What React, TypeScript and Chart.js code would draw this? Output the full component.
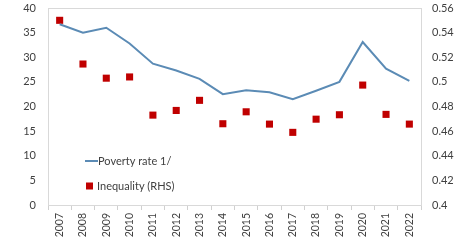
import React, { useEffect, useRef } from "react";
import { Chart, registerables } from "chart.js";

Chart.register(...registerables);

const years = ["2007","2008","2009","2010","2011","2012","2013","2014","2015","2016","2017","2018","2019","2020","2021","2022"];
const povertyRate = [36.7, 35.0, 36.0, 32.8, 28.7, 27.3, 25.6, 22.5, 23.3, 22.9, 21.5, 23.2, 25.0, 33.1, 27.7, 25.2];
const inequality = [0.550, 0.5145, 0.503, 0.504, 0.473, 0.4768, 0.485, 0.466, 0.4757, 0.4657, 0.459, 0.4697, 0.4733, 0.4974, 0.4736, 0.4657];
const povertyLabel = "Poverty rate 1/";
const inequalityLabel = "Inequality (RHS)";

const LINE_COLOR = "#5b8bb5";
const MARK_COLOR = "#c00000";
const FONT = "Lato, 'Open Sans', sans-serif";

const zeroPad = (s: any) => {
  s.paddingTop = 0;
  s.paddingBottom = 0;
  s.paddingLeft = 0;
  s.paddingRight = 0;
};

const frameAndLegend = {
  id: "frameAndLegend",
  afterDraw(chart: any) {
    const { ctx, chartArea: a } = chart;
    ctx.save();
    ctx.strokeStyle = "#d9d9d9";
    ctx.lineWidth = 1;
    ctx.strokeRect(Math.round(a.left) + 0.5, Math.round(a.top) + 0.5, Math.round(a.right - a.left), Math.round(a.bottom - a.top));
    // legend
    const lx = a.left + 37;
    const ly1 = a.top + 153;
    const ly2 = a.top + 178;
    ctx.strokeStyle = LINE_COLOR;
    ctx.lineWidth = 2;
    ctx.beginPath();
    ctx.moveTo(lx, ly1);
    ctx.lineTo(lx + 13, ly1);
    ctx.stroke();
    ctx.fillStyle = MARK_COLOR;
    ctx.fillRect(lx + 1, ly2 - 3.5, 7, 7);
    ctx.fillStyle = "#404040";
    ctx.font = `11px ${FONT}`;
    ctx.textBaseline = "middle";
    ctx.textAlign = "left";
    ctx.fillText(povertyLabel, lx + 13, ly1);
    ctx.fillText(inequalityLabel, lx + 12, ly2);
    ctx.restore();
  },
};

export default function App() {
  const ref = useRef<HTMLCanvasElement | null>(null);
  useEffect(() => {
    if (!ref.current) return;
    const chart = new Chart(ref.current, {
      type: "line",
      data: {
        labels: years,
        datasets: [
          {
            label: povertyLabel,
            data: povertyRate,
            borderColor: LINE_COLOR,
            backgroundColor: LINE_COLOR,
            borderWidth: 2,
            pointRadius: 0,
            tension: 0,
            yAxisID: "y",
          },
          {
            label: inequalityLabel,
            data: inequality,
            showLine: false,
            pointStyle: "rect",
            pointRadius: 5,
            pointBackgroundColor: MARK_COLOR,
            pointBorderColor: MARK_COLOR,
            pointBorderWidth: 0,
            yAxisID: "y1",
          },
        ],
      },
      options: {
        animation: false,
        responsive: false,
        maintainAspectRatio: false,
        layout: { padding: { top: 8, left: 0, right: 0, bottom: 0 } },
        plugins: { legend: { display: false }, tooltip: { enabled: false } },
        scales: {
          x: {
            offset: true,
            grid: { display: true, drawOnChartArea: false, drawTicks: true, tickLength: 5, color: "#d0d0d0", offset: true },
            border: { display: true, color: "#d0d0d0" },
            ticks: {
              minRotation: 90,
              maxRotation: 90,
              autoSkip: false,
              color: "#404040",
              font: { family: FONT, size: 10.5 },
              padding: 3,
            },
            afterFit(s: any) { s.height = 35; zeroPad(s); },
          },
          y: {
            position: "left",
            min: 0,
            max: 40,
            ticks: { stepSize: 5, color: "#404040", font: { family: FONT, size: 11 }, padding: 12 },
            grid: { display: false, drawTicks: false, tickLength: 0 },
            border: { display: true, color: "#d0d0d0" },
            afterFit(s: any) { s.width = 48; zeroPad(s); },
          },
          y1: {
            position: "right",
            min: 0.4,
            max: 0.56,
            ticks: {
              stepSize: 0.02,
              color: "#404040",
              font: { family: FONT, size: 11 },
              padding: 11,
              callback: (v: any) => String(+Number(v).toFixed(2)),
            },
            grid: { display: false, drawTicks: false, tickLength: 0 },
            border: { display: true, color: "#d0d0d0" },
            afterFit(s: any) { s.width = 35; zeroPad(s); },
          },
        },
      },
      plugins: [frameAndLegend],
    });
    return () => chart.destroy();
  }, []);
  return (
    <div style={{ position: "fixed", left: 0, top: 0, width: 456, height: 240, background: "#fff" }}>
      <canvas ref={ref} width={456} height={240} style={{ width: 456, height: 240 }} />
    </div>
  );
}
